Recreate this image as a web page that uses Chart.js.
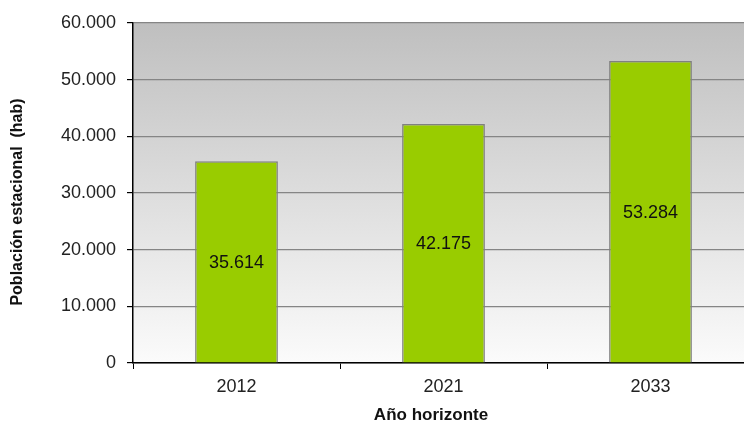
<!DOCTYPE html>
<html>
<head>
<meta charset="utf-8">
<script src="https://cdn.jsdelivr.net/npm/chart.js@4"></script>
<style>
  html, body { margin: 0; padding: 0; overflow: hidden; background: #fff; }
  #wrap { width: 760px; height: 427px; }
</style>
</head>
<body>
<div id="wrap"><canvas id="poblacionChart"></canvas></div>
<script>
var years = ["2012", "2021", "2033"];
var poblacion = [35614, 42175, 53284];
var yTicks = [0, 10000, 20000, 30000, 40000, 50000, 60000];
var xTitle = "Año horizonte";
var yTitle = "Población estacional  (hab)";

var FONT = '"Liberation Sans", Arial, sans-serif';

// numbers with dot as thousands separator
function fmt(v) {
  return v.toString().replace(/\B(?=(\d{3})+(?!\d))/g, ".");
}

// grey gradient behind the plot
var plotBackground = {
  id: 'plotBackground',
  beforeDraw: function(chart) {
    var a = chart.chartArea;
    var ctx = chart.ctx;
    var g = ctx.createLinearGradient(0, a.top, 0, a.bottom);
    g.addColorStop(0, '#bfbfbf');
    g.addColorStop(1, '#fbfbfb');
    ctx.save();
    ctx.fillStyle = g;
    ctx.fillRect(a.left, a.top, a.right - a.left, a.bottom - a.top);
    ctx.restore();
  }
};

// value in the middle of every bar + axis titles
var barLabels = {
  id: 'barLabels',
  afterDatasetsDraw: function(chart) {
    var ctx = chart.ctx;
    var meta = chart.getDatasetMeta(0);
    ctx.save();
    ctx.font = '18px ' + FONT;
    ctx.fillStyle = '#111';
    ctx.textAlign = 'center';
    ctx.textBaseline = 'middle';
    meta.data.forEach(function(bar, i) {
      ctx.fillText(fmt(poblacion[i]), bar.x, (bar.y + bar.base) / 2 + 1);
    });

    // x title (sits a bit left of the plot centre in the original)
    ctx.font = 'bold 17px ' + FONT;
    ctx.fillText(xTitle, 431, 415);

    // y title
    ctx.font = 'bold 16px ' + FONT;
    ctx.translate(18, (chart.chartArea.top + chart.chartArea.bottom) / 2 + 9);
    ctx.rotate(-Math.PI / 2);
    ctx.fillText(yTitle, 0, 0);
    ctx.restore();
  }
};

new Chart(document.getElementById('poblacionChart'), {
  type: 'bar',
  data: {
    labels: years,
    datasets: [{
      data: poblacion,
      backgroundColor: '#99cc00',
      borderColor: '#808080',
      borderWidth: 1.5,
      barPercentage: 0.4,
      categoryPercentage: 1.0
    }]
  },
  options: {
    responsive: true,
    maintainAspectRatio: false,
    animation: false,
    layout: { padding: { top: 23, right: 6, left: 0, bottom: 0 } },
    plugins: {
      legend: { display: false },
      tooltip: { enabled: false }
    },
    scales: {
      x: {
        afterFit: function(scale) { scale.height = 64; },
        grid: {
          offset: true,
          drawOnChartArea: false,
          tickLength: 6,
          tickColor: '#000'
        },
        border: { color: '#000', width: 1.5 },
        ticks: {
          color: '#222',
          padding: 7,
          font: { family: FONT, size: 18 }
        }
      },
      y: {
        min: 0,
        max: 60000,
        afterFit: function(scale) { scale.width = 133; },
        afterBuildTicks: function(scale) {
          scale.ticks = yTicks.map(function(v) { return { value: v }; });
        },
        grid: {
          color: '#858585',
          lineWidth: 1.2,
          tickLength: 6,
          tickColor: '#000'
        },
        border: { color: '#000', width: 1.5 },
        ticks: {
          color: '#222',
          padding: 11,
          font: { family: FONT, size: 18 },
          callback: function(v) { return fmt(v); }
        }
      }
    }
  },
  plugins: [plotBackground, barLabels]
});
</script>
</body>
</html>
